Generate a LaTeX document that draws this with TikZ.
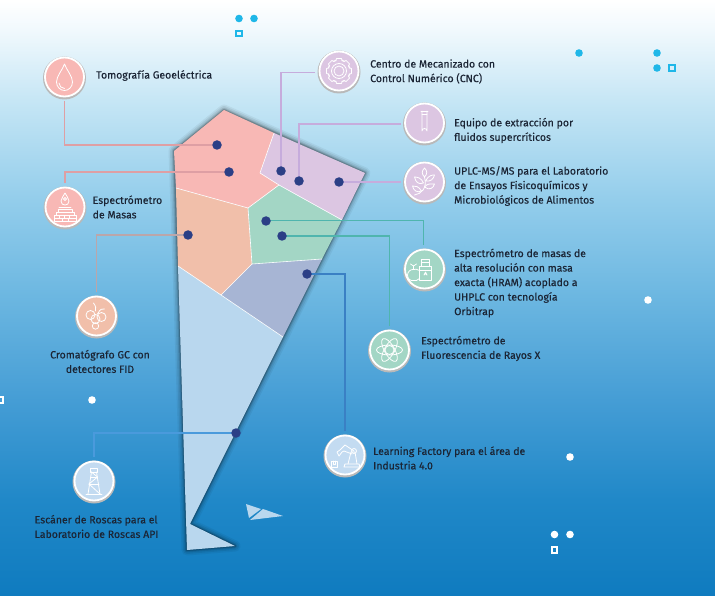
\documentclass[tikz,border=0pt]{standalone}
\usepackage{fontspec}
\setmainfont[RawFeature={embolden=0.35}]{Fira Sans}
\usetikzlibrary{calc}
\definecolor{cred}{HTML}{F8B8B5}
\definecolor{cpur}{HTML}{DCC6E2}
\definecolor{cgrn}{HTML}{A3D6C5}
\definecolor{cora}{HTML}{F1BFAA}
\definecolor{cgry}{HTML}{A7B5D4}
\definecolor{clbl}{HTML}{B9D7EE}
\definecolor{cdisc}{HTML}{C3DBF1}
\definecolor{cdot}{HTML}{2B3F86}
\definecolor{ccya}{HTML}{1FB7E8}
\definecolor{ctxt}{HTML}{1B2535}
\definecolor{wred}{HTML}{DE9FA4}
\definecolor{word}{HTML}{BBA6AA}
\definecolor{wpur}{HTML}{C6ACDC}
\definecolor{wgrn}{HTML}{4FB5AE}
\definecolor{wblu}{HTML}{3A80C4}
\definecolor{wbl2}{HTML}{4A9ADC}
\definecolor{bga}{HTML}{0F7BBF}
\definecolor{bgb}{HTML}{2088C8}
\definecolor{bgc}{HTML}{459DD5}
\definecolor{bgd}{HTML}{6CB7E1}
\definecolor{bge}{HTML}{93CDEB}
\definecolor{bgf}{HTML}{C6E6F5}
\definecolor{bgg}{HTML}{F1F9FD}
\pgfdeclareverticalshading{bgshade}{100bp}{
color(0bp)=(bga);
color(25bp)=(bga);
color(33.05bp)=(bgb);
color(41.44bp)=(bgc);
color(50.17bp)=(bgd);
color(58.2bp)=(bge);
color(66.6bp)=(bgf);
color(72.5bp)=(bgg);
color(75bp)=(white);
color(100bp)=(white)}
\tikzset{
  region/.style={line join=round},
  seam/.style={draw=white,line width=0.6pt,line join=round},
  pin/.style={circle,fill=cdot,inner sep=0pt,minimum size=9.5pt},
  disc/.style={circle,fill=#1,draw=white,line width=1.8pt,inner sep=0pt,minimum size=39pt},
  lbl/.style={anchor=west,align=left,font=\fontsize{10.5}{14.5}\selectfont,text=ctxt,inner sep=0pt},
  lblc/.style={align=center,font=\fontsize{10.5}{14.5}\selectfont,text=ctxt,inner sep=0pt},
  wire/.style={line width=1.2pt,draw=#1,shorten <=3.5pt},
  ico/.style={draw=white,line width=0.8pt,line join=round,line cap=round},
  speck/.style={circle,fill=#1,inner sep=0pt,minimum size=7.6pt},
  sq/.style={draw=#1,line width=2pt,inner sep=0pt,minimum size=5.6pt},
}
\newcommand{\icondisc}[4]{%
  \fill[gray!55!white] (#2,#3+1) circle (21.5pt);
  \node[disc=#4] (#1) at (#2,#3) {};
}
\begin{document}
\begin{tikzpicture}[x=1pt,y=-1pt]
\useasboundingbox (0,0) rectangle (715,596);
\shade[shading=bgshade] (0,0) rectangle (715,596);

% map shadow
\foreach \w/\o in {11/0.05,8/0.07,5/0.09,3/0.12,1.5/0.16}
  \draw[black,opacity=\o,line width=\w pt,line join=round]
   (224,110)--(365,173)--(190,524)--(235,546)--(187,550)--(178,266)--(174,151)--cycle;

% map
\path[region,fill=clbl] (178,266)--(221,295)--(283,337)--(190,524)--(235,546)--(187,550)--cycle;
\path[region,fill=cgry] (252,264)--(322,259)--(283,337)--(221,295)--cycle;
\path[region,fill=cora] (176,188)--(248,208)--(252,264)--(221,295)--(178,266)--cycle;
\path[region,fill=cgrn] (279,185)--(342,220)--(322,259)--(252,264)--(248,208)--cycle;
\path[region,fill=cpur] (274,133)--(365,173)--(342,220)--(279,185)--(260,173)--cycle;
\path[region,fill=cred] (224,110)--(274,133)--(260,173)--(279,185)--(248,208)--(176,188)--(174,151)--cycle;
\draw[seam] (274,133)--(260,173)--(279,185)--(248,208)--(176,188);
\draw[seam] (279,185)--(342,220);
\draw[seam] (248,208)--(252,264)--(221,295)--(178,266);
\draw[seam] (252,264)--(322,259);
\draw[seam] (221,295)--(283,337);

% small triangles
\fill[clbl] (246,504)--(261,509)--(249,518)--cycle;
\fill[clbl] (263,509)--(283,516)--(250,520)--cycle;

% pins as named nodes (drawn later over wires)
\path
 (217,145) coordinate (p1)
 (229,172) coordinate (p2)
 (281,171) coordinate (p3)
 (299,181) coordinate (p4)
 (339,182) coordinate (p5)
 (266,221) coordinate (p6)
 (282,236) coordinate (p7)
 (188,235) coordinate (p8)
 (307,274) coordinate (p9)
 (236,433) coordinate (p10);

% discs
\icondisc{tomo}{64.5}{77}{cred}
\icondisc{cnc}{339}{71}{cpur}
\icondisc{equipo}{424.5}{123}{cpur}
\icondisc{uplc}{424.5}{182}{cpur}
\icondisc{hram}{424.5}{269}{cgrn}
\icondisc{fluor}{389.5}{350}{cgrn}
\icondisc{learn}{345}{455}{cdisc}
\icondisc{escaner}{94}{481}{cdisc}
\icondisc{croma}{96.5}{316}{cora}
\icondisc{masas}{65}{207}{cred}

% wires
\draw[wire=wred] (tomo.south) |- (p1);
\draw[wire=wred] (masas.north) |- (p2);
\draw[wire=word] (croma.north) |- (p8);
\draw[wire=wpur] ([yshift=-1.5pt]cnc.west) -| (p3);
\draw[wire=wpur] ([yshift=-1pt]equipo.west) -| (p4);
\draw[wire=wpur] (uplc.west) -- (p5);
\draw[wire=wgrn,line width=1pt] ([xshift=-1.5pt]hram.north) |- (p6);
\draw[wire=wgrn,line width=1.4pt] (fluor.north) |- (p7);
\draw[wire=wblu] (learn.north) |- (p9);
\draw[wire=wbl2,line width=1.4pt] (escaner.north) |- (p10);

\foreach \p in {p1,p2,p3,p4,p5,p6,p7,p8,p9,p10}
  \node[pin] (n\p) at (\p) {};

% specks
\foreach \x/\y in {239/18.5,254/18.5,579/53,657/53,657/68}
  \node[speck=ccya] at (\x,\y) {};
\foreach \x/\y in {92/400,648/300,570/457,554.5/534.5,570/534.5}
  \node[speck=white] at (\x,\y) {};
\node[sq=ccya] at (239,33.5) {};
\node[sq=ccya] at (672,68) {};
\node[sq=white] at (0.5,400) {};
\node[sq=white] at (554.5,550) {};

% icons
\begin{scope}[shift={(64.5,77)},ico]
 \draw (0,-13) .. controls (-2,-7) and (-8,-1) .. (-8,5) .. controls (-8,10) and (-4,13.5) .. (0,13.5) .. controls (4,13.5) and (8,10) .. (8,5) .. controls (8,-1) and (2,-7) .. (0,-13) -- cycle;
 \draw (-5.5,6) .. controls (-5.5,9) and (-3,11.5) .. (0,11.5);
\end{scope}
\begin{scope}[shift={(339,71)},ico]
 \draw (0,0) circle (7.5pt) (0,0) circle (5pt);
 \foreach \a in {0,45,...,315}
  \draw[rotate=\a] (-5.5,-10) -- (-3,-10.2) -- (-2.5,-12.5) -- (2.5,-12.5) -- (3,-10.2) -- (5.5,-10);
\end{scope}
\begin{scope}[shift={(424.5,123)},ico]
 \draw (-3.5,-12) -- (3.5,-12);
 \draw (-2.5,-12) -- (-2.5,8) arc[start angle=180,end angle=360,radius=2.5] -- (2.5,-12);
 \draw (-2.5,-9) -- (2.5,-9);
\end{scope}
\begin{scope}[shift={(424.5,182)},ico]
 \draw (-10,13) .. controls (-3,12) and (3,6) .. (0,-5);
 \draw (0,-5) .. controls (-3,-8) and (-3,-11) .. (0,-14) .. controls (3,-11) and (3,-8) .. (0,-5);
 \draw (1,-1) .. controls (4,-7) and (8,-7) .. (10,-7) .. controls (9,-3) and (6,0) .. (1,-1);
 \draw (-1,1) .. controls (-3,-4) and (-7,-5) .. (-10,-5) .. controls (-9,0) and (-6,3) .. (-1,1);
 \draw (0,5) .. controls (3,1) and (7,2) .. (10,2) .. controls (9,6) and (5,9) .. (0,5);
 \draw (-3,9) .. controls (-6,4) and (-9,4) .. (-12,4) .. controls (-11,9) and (-7,11) .. (-3,9);
\end{scope}
\begin{scope}[shift={(424.5,269)},ico]
 \draw (-5,11) rectangle (7,-3);
 \draw (-3,-3) -- (-3,-7) -- (5,-7) -- (5,-3);
 \draw (-3,-10) rectangle (5,-7);
 \draw (-5,1) -- (7,1);
 \draw (1,3) -- (2.5,6) arc[start angle=0,end angle=-180,radius=1.5] -- cycle;
 \draw (-5,1.5) .. controls (-7,0) and (-10,0) .. (-11,0.5) .. controls (-14,0) and (-17,3) .. (-17,6) .. controls (-17,10) and (-14,12) .. (-11,11.5) .. controls (-9,12) and (-7,11.5) .. (-5,9.5);
 \draw (-11,0.5) -- (-11,-3) (-11,-3) -- (-14,-5) (-11,-3) -- (-8,-5);
\end{scope}
\begin{scope}[shift={(389.5,350)},ico]
 \draw (0,0) circle (4.5pt);
 \draw (0,0) ellipse [x radius=13,y radius=5];
 \draw[rotate=60] (0,0) ellipse [x radius=13,y radius=5];
 \draw[rotate=-60] (0,0) ellipse [x radius=13,y radius=5];
\end{scope}
\begin{scope}[shift={(345,455)},ico]
 \draw (-1,12) -- (0,9) -- (14,9) -- (15,12) -- cycle;
 \draw (3,9) -- (6,-3) -- (10,-3) -- (12,9);
 \draw (9,-4) -- (0,-10) -- (-5,-5) -- (-8,-3) -- (-6,1) -- (-3,-3) -- (-1,-4) -- (7,-1);
 \draw (9,-4) circle (2.5pt);
 \draw (-14,6) rectangle (-8,12);
 \draw (-12,6) -- (-12,9) -- (-10,9) -- (-10,6);
\end{scope}
\begin{scope}[shift={(94,481)},ico]
 \draw (-8,13) -- (8,13);
 \draw (-6,13) -- (-2.5,-9) (6,13) -- (2.5,-9);
 \draw (-3.5,-13) rectangle (3.5,-9);
 \draw (-3.5,-4) -- (3.5,-4) (-5,3) -- (5,3);
 \draw (-2.5,-9) -- (3.5,-4) -- (-5,3) -- (6,13);
\end{scope}
\begin{scope}[shift={(96.5,316)},ico]
 \draw (-3,-13) .. controls (-1,-10) and (0,-8) .. (-1,-5);
 \draw (1,-2) .. controls (4,-8) and (6,-7) .. (8,-7);
 \draw (-6,-1) circle (4.5pt);
 \draw (5,1) circle (4.5pt);
 \draw (-1,3) circle (4.5pt);
 \draw (-1,10) circle (3.2pt);
\end{scope}
\begin{scope}[shift={(65,207)},ico]
 \draw (0,-14) .. controls (-1,-11) and (-4,-9) .. (-4,-6) .. controls (-4,-3) and (-2,-2) .. (0,-2) .. controls (2,-2) and (4,-3) .. (4,-6) .. controls (4,-9) and (1,-11) .. (0,-14);
 \draw (0,-8) circle (1.5pt);
 \draw (-6,0) -- (6,0);
 \draw (-7,2.5) rectangle (7,5);
 \draw (-9,5) rectangle (9,8);
 \draw (-11,8) rectangle (-6,11) (-6,8) rectangle (-1,11) (-1,8) rectangle (4,11) (4,8) rectangle (11,11);
 \draw (-11,11) rectangle (-3,14) (-3,11) rectangle (3,14) (3,11) rectangle (11,14);
\end{scope}

% labels
\node[lbl] (ltomo) at (96,75.5) {Tomografía Geoeléctrica};
\node[lbl] (lcnc) at (370,71.5) {Centro de Mecanizado con\\Control Numérico (CNC)};
\node[lbl] (lequipo) at (454,130.5) {Equipo de extracción por\\fluidos supercríticos};
\node[lbl] (luplc) at (454,186) {UPLC-MS/MS para el Laboratorio\\de Ensayos Fisicoquímicos y\\Microbiológicos de Alimentos};
\node[lbl] (lhram) at (454,283) {Espectrómetro de masas de\\alta resolución con masa\\exacta (HRAM) acoplado a\\UHPLC con tecnología\\Orbitrap};
\node[lbl] (lfluor) at (421,348.5) {Espectrómetro de\\Fluorescencia de Rayos X};
\node[lbl] (llearn) at (373,458) {Learning Factory para el área de\\Industria 4.0};
\node[lbl] (lesc) at (34.5,526.5) {Escáner de Roscas para el\\Laboratorio de Roscas API};
\node[lblc] (lcro) at (100,361.5) {Cromatógrafo GC con\\detectores FID};
\node[lbl] (lmas) at (92.5,207) {Espectrómetro\\de Masas};
\end{tikzpicture}
\end{document}
